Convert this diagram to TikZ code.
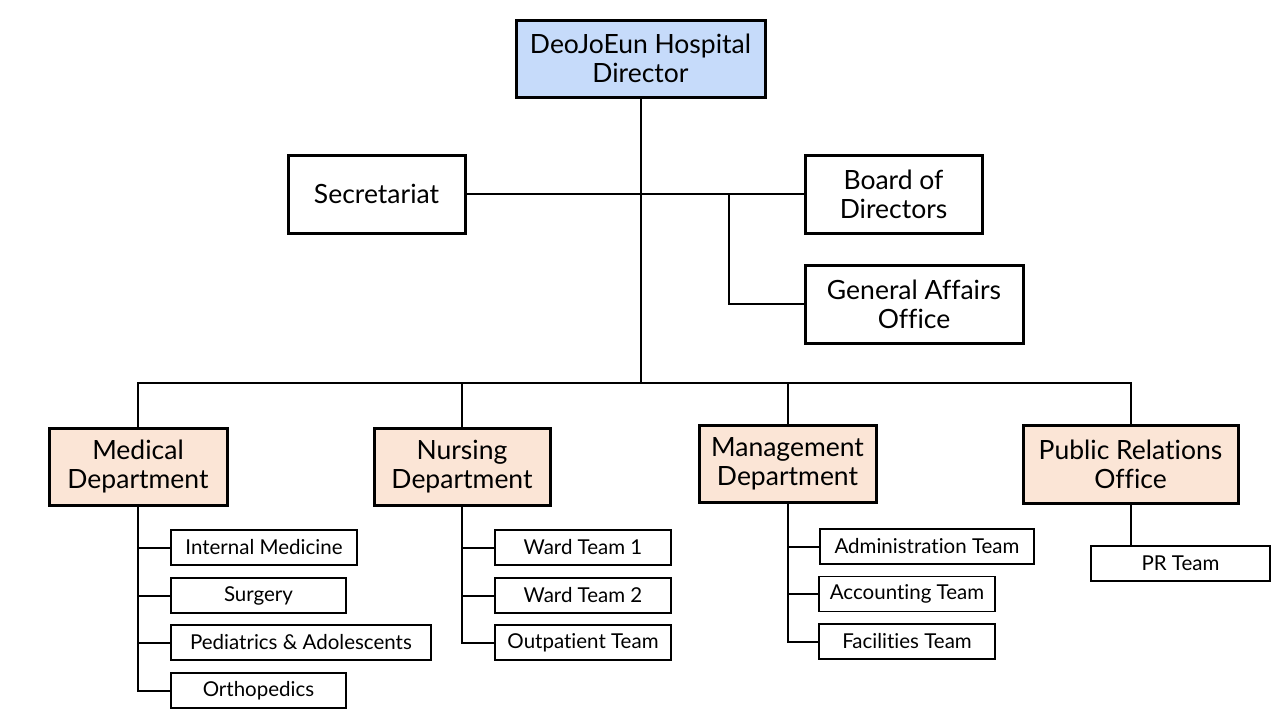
\documentclass[tikz,border=0pt]{standalone}
\usepackage{fontspec}
\setmainfont{Lato}[Ligatures={NoCommon}]
\definecolor{dirblue}{HTML}{C6DBFA}
\definecolor{peach}{HTML}{FBE5D6}
\tikzset{
  big/.style={draw=black, line width=3pt, align=center, inner sep=0pt,
    font=\fontsize{26.5}{29}\selectfont},
  topbox/.style={big, fill=dirblue},
  deptbox/.style={big, fill=peach},
  small/.style={draw=black, line width=1.2pt, inner sep=0pt, minimum height=35pt,
    font=\fontsize{20.5}{22}\selectfont},
  conn/.style={line width=2pt, line cap=rect}
}
\begin{document}
\begin{tikzpicture}[x=1pt,y=-1pt]
\useasboundingbox (0,0) rectangle (1280,720);
% top level
\node[topbox, minimum width=249pt, minimum height=77pt] (dir) at (640.5,58.5) {DeoJoEun Hospital\\Director};
\node[big, minimum width=177pt, minimum height=78pt] (sec) at (376.5,194) {Secretariat};
\node[big, minimum width=177pt, minimum height=78pt] (board) at (893.5,194) {Board of\\Directors};
\node[big, minimum width=218pt, minimum height=78pt] (ga) at (914,304) {General Affairs\\Office};
% departments
\node[deptbox, minimum width=178pt, minimum height=77pt] (med) at (138,466.5) {Medical\\Department};
\node[deptbox, minimum width=176pt, minimum height=77pt] (nur) at (462,466.5) {Nursing\\Department};
\node[deptbox, minimum width=177pt, minimum height=77pt] (mgt) at (787.5,463.5) {Management\\Department};
\node[deptbox, minimum width=215pt, minimum height=78pt] (pro) at (1130.5,464) {Public Relations\\Office};
% medical teams
\node[small, minimum width=186pt] (im) at (264,547.5) {Internal Medicine};
\node[small, minimum width=175pt] (sur) at (258.5,595.5) {Surgery};
\node[small, minimum width=260pt] (ped) at (301,642.5) {Pediatrics \& Adolescents};
\node[small, minimum width=175pt] (ort) at (258.5,690.5) {Orthopedics};
% nursing teams
\node[small, minimum width=176pt] (w1) at (583,547.5) {Ward Team 1};
\node[small, minimum width=176pt] (w2) at (583,595.5) {Ward Team 2};
\node[small, minimum width=176pt] (opt) at (583,642.5) {Outpatient Team};
% management teams
\node[small, minimum width=214pt] (adm) at (927,546.5) {Administration Team};
\node[small, minimum width=176pt] (acc) at (907,594) {Accounting Team};
\node[small, minimum width=176pt] (fac) at (907,641.5) {Facilities Team};
% PR team
\node[small, minimum width=179pt] (prt) at (1180.5,563.5) {PR Team};
% coordinates
\coordinate (bus) at (640,383);
\coordinate (ja) at (729,194);
% connectors
\draw[conn] (dir.south) -- (dir.south |- bus);
\draw[conn] (sec.east) -- (board.west);
\draw[conn] (ja) |- (ga.west);
\draw[conn] (med.north) -- (med.north |- bus) -- (pro.north |- bus) -- (pro.north);
\draw[conn] (nur.north) -- (nur.north |- bus);
\draw[conn] (mgt.north) -- (mgt.north |- bus);
\draw[conn] (med.south) |- (ort.west);
\draw[conn] (med.south |- im.west) -- (im.west);
\draw[conn] (med.south |- sur.west) -- (sur.west);
\draw[conn] (med.south |- ped.west) -- (ped.west);
\draw[conn] (nur.south) |- (opt.west);
\draw[conn] (nur.south |- w1.west) -- (w1.west);
\draw[conn] (nur.south |- w2.west) -- (w2.west);
\draw[conn] (mgt.south) |- (fac.west);
\draw[conn] (mgt.south |- adm.west) -- (adm.west);
\draw[conn] (mgt.south |- acc.west) -- (acc.west);
\draw[conn] (pro.south) -- (pro.south |- prt.north);
\end{tikzpicture}
\end{document}
